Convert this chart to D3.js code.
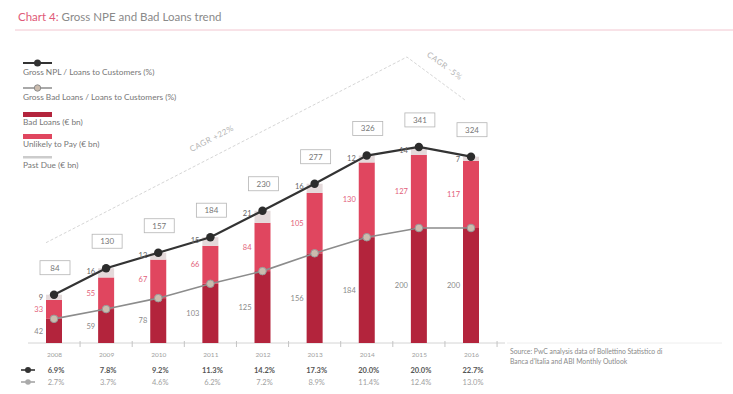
<!DOCTYPE html>
<html>
<head>
<meta charset="utf-8">
<script src="https://cdn.jsdelivr.net/npm/d3@7"></script>
<style>
  html, body { margin: 0; padding: 0; background: #fff; }
  svg { display: block; font-family: Lato, "Open Sans", sans-serif; }
</style>
</head>
<body>
<svg id="chart" width="733" height="394"></svg>
<script>
// Italian banking system: gross non-performing exposures by category (€ bn)
const years = ["2008", "2009", "2010", "2011", "2012", "2013", "2014", "2015", "2016"];
const badLoans = [42, 59, 78, 103, 125, 156, 184, 200, 200];
const unlikelyToPay = [33, 55, 67, 66, 84, 105, 130, 127, 117];
const pastDue = [9, 16, 12, 15, 21, 16, 12, 14, 7];

// Ratios shown in the table under the chart
const npeRatio = ["6.9%", "7.8%", "9.2%", "11.3%", "14.2%", "17.3%", "20.0%", "20.0%", "22.7%"];
const badLoanRatio = ["2.7%", "3.7%", "4.6%", "6.2%", "7.2%", "8.9%", "11.4%", "12.4%", "13.0%"];

const legendLabels = [
  "Gross NPL / Loans to Customers (%)",
  "Gross Bad Loans / Loans to Customers (%)",
  "Bad Loans (€ bn)",
  "Unlikely to Pay (€ bn)",
  "Past Due (€ bn)"
];
const cagrLabels = ["CAGR +22%", "CAGR -5%"];

const totals = years.map((_, i) => badLoans[i] + unlikelyToPay[i] + pastDue[i]);

const C = {
  bad: "#b3243c",
  utp: "#e0465f",
  pd: "#e4d9da",
  npeLine: "#333",
  badLine: "#8c8c8c",
  text: "#777",
  pink: "#e05a78"
};

const svg = d3.select("#chart");

// ---- title ----
const title = svg.append("text").attr("x", 18).attr("y", 21).attr("font-size", 11.5);
title.append("tspan").attr("fill", C.pink).text("Chart 4:");
title.append("tspan").attr("fill", "#8a8a8a").text(" Gross NPE and Bad Loans trend");
svg.append("line").attr("x1", 15).attr("x2", 733).attr("y1", 30).attr("y2", 30)
  .attr("stroke", "#f2c6d0").attr("stroke-width", 1);

// ---- scales ----
const x = d3.scalePoint().domain(years).range([54, 471]);
const y = d3.scaleLinear().domain([0, 400]).range([343, 113]);
const barW = 16;
const step = x.step();

// ---- growth annotation (CAGR) ----
const ann = svg.append("g");
const pA = [x(years[0]) - 8, y(totals[0]) - 52];
const pB = [x(years[7]) - 12, 57];
const pC = [x(years[8]) - 6, 100];
ann.append("path")
  .attr("d", d3.line()([pA, pB, pC]))
  .attr("fill", "none").attr("stroke", "#d6d6d6").attr("stroke-width", 1)
  .attr("stroke-dasharray", "3,2");
const ang1 = Math.atan2(pB[1] - pA[1], pB[0] - pA[0]) * 180 / Math.PI;
const ang2 = Math.atan2(pC[1] - pB[1], pC[0] - pB[0]) * 180 / Math.PI;
ann.append("text")
  .attr("transform", `translate(213,141) rotate(${ang1})`)
  .attr("text-anchor", "middle").attr("font-size", 8).attr("fill", "#b5b5b5")
  .attr("letter-spacing", 0.5).text(cagrLabels[0]);
ann.append("text")
  .attr("transform", `translate(443,68) rotate(${ang2})`)
  .attr("text-anchor", "middle").attr("font-size", 8).attr("fill", "#b5b5b5")
  .attr("letter-spacing", 0.5).text(cagrLabels[1]);

// ---- legend ----
const lg = svg.append("g").attr("font-size", 8.3).attr("fill", C.text);
lg.append("line").attr("x1", 23).attr("x2", 52).attr("y1", 63).attr("y2", 63)
  .attr("stroke", C.npeLine).attr("stroke-width", 2);
lg.append("circle").attr("cx", 37.5).attr("cy", 63).attr("r", 3.5).attr("fill", C.npeLine);
lg.append("line").attr("x1", 23).attr("x2", 52).attr("y1", 88).attr("y2", 88)
  .attr("stroke", C.badLine).attr("stroke-width", 1.5);
lg.append("circle").attr("cx", 37.5).attr("cy", 88).attr("r", 3.2)
  .attr("fill", "#cbbcae").attr("stroke", "#8c8c8c").attr("stroke-width", 1);
lg.append("rect").attr("x", 23).attr("y", 112).attr("width", 29).attr("height", 5).attr("fill", C.bad);
lg.append("rect").attr("x", 23).attr("y", 134).attr("width", 29).attr("height", 5).attr("fill", C.utp);
lg.append("rect").attr("x", 23).attr("y", 156).attr("width", 29).attr("height", 2.5).attr("fill", "#ccc");
[75, 100, 125, 147, 168].forEach((ty, i) => {
  lg.append("text").attr("x", 23).attr("y", ty).text(legendLabels[i]);
});

// ---- axis ----
const axisG = svg.append("g").attr("transform", "translate(0,343)")
  .call(d3.axisBottom(x).tickSize(0).tickPadding(9));
axisG.select(".domain").remove();
axisG.selectAll("text").attr("font-size", 6.5).attr("fill", "#a0a0a0")
  .attr("font-family", "Lato, 'Open Sans', sans-serif");
svg.append("line").attr("x1", 28).attr("x2", 505).attr("y1", 343).attr("y2", 343)
  .attr("stroke", "#d4d4d4").attr("stroke-width", 1);
svg.append("g").selectAll("line").data(years).join("line")
  .attr("x1", d => x(d) + step / 2).attr("x2", d => x(d) + step / 2)
  .attr("y1", 341).attr("y2", 347).attr("stroke", "#c4c4c4").attr("stroke-width", 1);

// ---- stacked bars ----
const bars = svg.append("g");
years.forEach((yr, i) => {
  const cx = x(yr);
  const b0 = 0, b1 = badLoans[i], u1 = b1 + unlikelyToPay[i], p1 = u1 + pastDue[i];
  bars.append("rect").attr("x", cx - barW / 2).attr("width", barW)
    .attr("y", y(b1)).attr("height", y(b0) - y(b1)).attr("fill", C.bad);
  bars.append("rect").attr("x", cx - barW / 2).attr("width", barW)
    .attr("y", y(u1)).attr("height", y(b1) - y(u1)).attr("fill", C.utp);
  bars.append("rect").attr("x", cx - barW / 2).attr("width", barW)
    .attr("y", y(p1)).attr("height", y(u1) - y(p1)).attr("fill", C.pd);

  // segment values
  bars.append("text").attr("x", cx - 11).attr("y", (y(b0) + y(b1)) / 2)
    .attr("dy", "0.35em").attr("text-anchor", "end").attr("font-size", 7.5)
    .attr("fill", "#8a8a8a").text(badLoans[i]);
  bars.append("text").attr("x", cx - 11).attr("y", (y(b1) + y(u1)) / 2)
    .attr("dy", "0.35em").attr("text-anchor", "end").attr("font-size", 7.5)
    .attr("fill", "#e2607a").text(unlikelyToPay[i]);
});

// ---- ratio lines ----
const npePts = years.map((yr, i) => [x(yr), y(totals[i])]);
const badPts = years.map((yr, i) => [x(yr), y(badLoans[i])]);

svg.append("path").attr("d", d3.line()(badPts)).attr("fill", "none")
  .attr("stroke", C.badLine).attr("stroke-width", 1.6);
svg.append("g").selectAll("circle").data(badPts).join("circle")
  .attr("cx", d => d[0]).attr("cy", d => d[1]).attr("r", 3.8)
  .attr("fill", "#cbbcae").attr("stroke", "#999").attr("stroke-width", 1);

svg.append("path").attr("d", d3.line()(npePts)).attr("fill", "none")
  .attr("stroke", C.npeLine).attr("stroke-width", 2.2);
svg.append("g").selectAll("circle").data(npePts).join("circle")
  .attr("cx", d => d[0]).attr("cy", d => d[1]).attr("r", 4.2).attr("fill", "#2c2c2c");

// past-due values beside the points
svg.append("g").selectAll("text").data(years).join("text")
  .attr("x", d => x(d) - 11).attr("y", (d, i) => y(totals[i]) + 3)
  .attr("dy", "0.35em").attr("text-anchor", "end").attr("font-size", 7.5)
  .attr("fill", "#666").text((d, i) => pastDue[i]);

// total boxes
const boxes = svg.append("g");
years.forEach((yr, i) => {
  const cx = x(yr) + 1, cy = y(totals[i]) - 27;
  boxes.append("rect").attr("x", cx - 15).attr("y", cy - 7).attr("width", 30).attr("height", 14)
    .attr("fill", "#fff").attr("stroke", "#b5b5b5").attr("stroke-width", 0.8);
  boxes.append("text").attr("x", cx).attr("y", cy).attr("dy", "0.35em")
    .attr("text-anchor", "middle").attr("font-size", 8).attr("fill", "#777").text(totals[i]);
});

// ---- ratio table ----
const tbl = svg.append("g");
tbl.append("line").attr("x1", 21).attr("x2", 35).attr("y1", 370).attr("y2", 370)
  .attr("stroke", "#333").attr("stroke-width", 1.6);
tbl.append("circle").attr("cx", 28).attr("cy", 370).attr("r", 3).attr("fill", "#333");
tbl.append("line").attr("x1", 21).attr("x2", 35).attr("y1", 382).attr("y2", 382)
  .attr("stroke", "#999").attr("stroke-width", 1.4);
tbl.append("circle").attr("cx", 28).attr("cy", 382).attr("r", 2.8).attr("fill", "#aaa");
tbl.selectAll(".r1").data(years).join("text").attr("class", "r1")
  .attr("x", d => x(d) + 2).attr("y", 370).attr("dy", "0.35em").attr("text-anchor", "middle")
  .attr("font-size", 7.5).attr("font-weight", "bold").attr("fill", "#555")
  .text((d, i) => npeRatio[i]);
tbl.selectAll(".r2").data(years).join("text").attr("class", "r2")
  .attr("x", d => x(d) + 2).attr("y", 382).attr("dy", "0.35em").attr("text-anchor", "middle")
  .attr("font-size", 7.5).attr("fill", "#a0a0a0")
  .text((d, i) => badLoanRatio[i]);

// ---- source ----
svg.append("line").attr("x1", 507).attr("x2", 722).attr("y1", 343).attr("y2", 343)
  .attr("stroke", "#eee").attr("stroke-width", 1);
const src = svg.append("text").attr("x", 510).attr("font-size", 6.8).attr("fill", "#8a8a8a");
src.append("tspan").attr("x", 510).attr("y", 354).text("Source: PwC analysis data of Bollettino Statistico di");
src.append("tspan").attr("x", 510).attr("y", 364).text("Banca d'Italia and ABI Monthly Outlook");
</script>
</body>
</html>
